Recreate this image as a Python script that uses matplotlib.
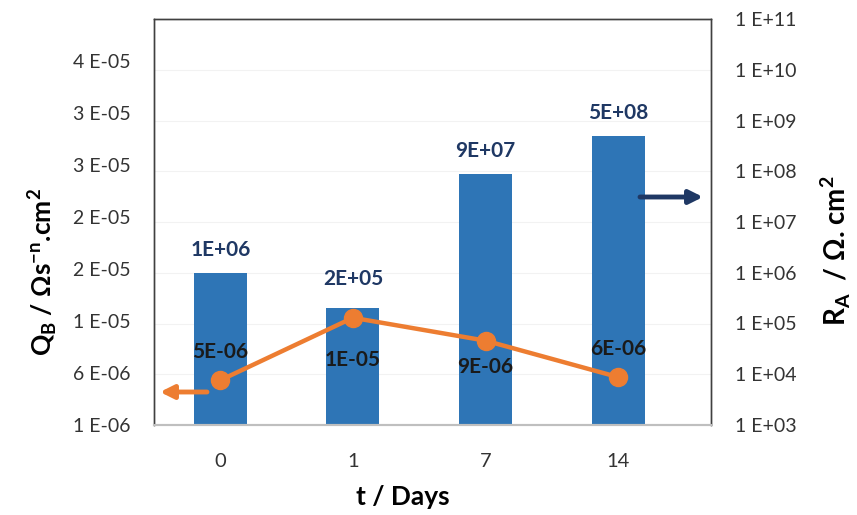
import matplotlib
matplotlib.use("Agg")
import matplotlib.pyplot as plt
from matplotlib.ticker import FixedLocator, FuncFormatter, NullLocator

plt.rcParams['font.family'] = ['Lato', 'DejaVu Sans']

# ---- data ----
days = ["0", "1", "7", "14"]
R_A = [1e6, 2e5, 9e7, 5e8]                 # bars, right log axis
Q_B = [5.3e-6, 1.13e-5, 9.1e-6, 5.6e-6]     # line, left linear axis
left_ticks = [1e-6, 6e-6, 1.1e-5, 1.6e-5, 2.1e-5, 2.6e-5, 3.1e-5, 3.6e-5]
right_ticks = [1e3, 1e4, 1e5, 1e6, 1e7, 1e8, 1e9, 1e10, 1e11]

bar_color = "#2E75B6"
line_color = "#ED7D31"
navy = "#1F3864"

fig = plt.figure(figsize=(8.57, 5.15), dpi=100)
ax = fig.add_axes([154/857, 1-425/515, 557/857, 406/515])
ax2 = ax.twinx()

x = list(range(len(days)))

# bars on right log axis
ax2.set_yscale('log')
ax2.set_ylim(1e3, 1e11)
ax2.bar(x, R_A, width=0.40, color=bar_color, zorder=2)
bar_offsets = [9, 14, 9, 9]
for xi, v, off in zip(x, R_A, bar_offsets):
    ax2.annotate(f"{v:.0E}", (xi, v), xytext=(0, off), textcoords='offset points',
                 ha='center', va='bottom', fontsize=15, fontweight='bold', color=navy)
ax2.yaxis.set_major_locator(FixedLocator(right_ticks))
ax2.yaxis.set_minor_locator(NullLocator())
ax2.yaxis.set_major_formatter(FuncFormatter(lambda v, p: f"{v:.0E}".replace("E", " E")))
ax2.tick_params(axis='y', length=0, pad=17, labelsize=14, colors='#333333')
ax2.grid(axis='y', color='#f2f2f2', linewidth=0.8, zorder=0)
ax2.set_axisbelow(True)

# line on left linear axis
ax.set_zorder(ax2.get_zorder() + 1)
ax.patch.set_visible(False)
ax.set_ylim(1e-6, 4e-5)
ax.set_xlim(-0.5, 3.70)
ax.plot(x, Q_B, color=line_color, linewidth=3.2, marker='o', markersize=13, zorder=3)
offsets = [(0, 13), (0, -23), (0, -12), (0, 13)]
for xi, v, off in zip(x, Q_B, offsets):
    va = 'bottom' if off[1] > 0 else 'top'
    ax.annotate(f"{v:.0E}", (xi, v), xytext=off, textcoords='offset points',
                ha='center', va=va, fontsize=15, fontweight='bold', color='#1a1a1a')
ax.yaxis.set_major_locator(FixedLocator(left_ticks))
ax.yaxis.set_major_formatter(FuncFormatter(lambda v, p: f"{v:.0E}".replace("E", " E")))
ax.tick_params(axis='y', length=0, pad=17, labelsize=14, colors='#333333')
ax.set_xticks(x)
ax.set_xticklabels(days)
ax.tick_params(axis='x', length=0, pad=20, labelsize=14.5, colors='#333333')

for a in (ax, ax2):
    for s in ('left', 'right', 'top'):
        a.spines[s].set_color('#404040')
        a.spines[s].set_linewidth(1.0)
    a.spines['bottom'].set_color('#bfbfbf')
    a.spines['bottom'].set_linewidth(1.5)

ax.set_xlabel("t / Days", fontsize=19, fontweight='bold', labelpad=11)
ax.xaxis.label.set_x(0.447)
ax.set_ylabel(r"Q$_\mathregular{B}$ / Ωs$^\mathregular{-n}$.cm$^\mathregular{2}$",
              fontsize=19, fontweight='bold', labelpad=10)
ax.yaxis.label.set_y(0.377)
ax2.set_ylabel(r"R$_\mathregular{A}$  / Ω. cm$^\mathregular{2}$",
               fontsize=20, fontweight='bold', labelpad=16)
ax2.yaxis.label.set_y(0.43)

# direction arrows
ax.annotate("", xy=(160/857, 1-392/515), xytext=(207/857, 1-392/515),
            xycoords='figure fraction', textcoords='figure fraction',
            arrowprops=dict(arrowstyle='-|>', color=line_color, lw=3.5,
                            mutation_scale=20, shrinkA=0, shrinkB=0))
ax.annotate("", xy=(703/857, 1-197/515), xytext=(640/857, 1-197/515),
            xycoords='figure fraction', textcoords='figure fraction',
            arrowprops=dict(arrowstyle='-|>', color=navy, lw=3.5,
                            mutation_scale=20, shrinkA=0, shrinkB=0))

fig.savefig("out.png", dpi=100)
